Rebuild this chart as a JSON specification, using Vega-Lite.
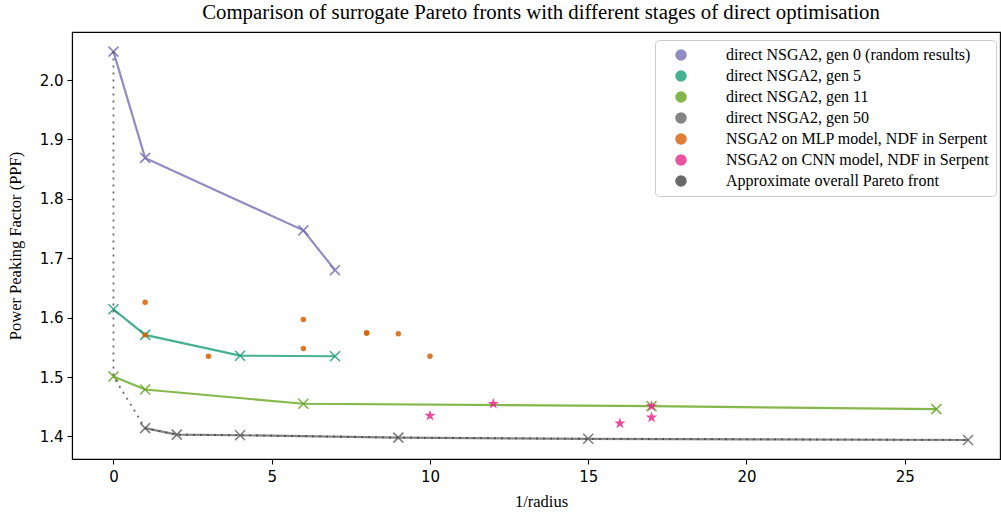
{
  "$schema": "https://vega.github.io/schema/vega-lite/v6.json",
  "autosize": {"type": "none"},
  "padding": {"left": 72, "top": 32, "right": 1, "bottom": 54},
  "width": 928,
  "height": 427,
  "title": {
    "text": "Comparison of surrogate Pareto fronts with different stages of direct optimisation",
    "font": "Liberation Serif",
    "fontSize": 20.8,
    "fontWeight": "normal",
    "color": "black",
    "anchor": "middle",
    "dx": 5,
    "offset": 8
  },
  "config": {
    "view": {"stroke": "black", "strokeWidth": 1.1},
    "axis": {
      "grid": false,
      "domainColor": "black",
      "domainWidth": 1.1,
      "tickColor": "black",
      "tickWidth": 1.1,
      "tickSize": 5,
      "labelFont": "DejaVu Sans",
      "labelFontSize": 15,
      "labelColor": "black",
      "titleFont": "Liberation Serif",
      "titleFontSize": 16.5,
      "titleFontWeight": "normal",
      "titleColor": "black"
    }
  },
  "data": {
    "values": [
      {"series": "direct NSGA2, gen 0 (random results)", "kind": "gen", "o": 1, "x": 0, "y": 2.048},
      {"series": "direct NSGA2, gen 0 (random results)", "kind": "gen", "o": 2, "x": 1, "y": 1.869},
      {"series": "direct NSGA2, gen 0 (random results)", "kind": "gen", "o": 3, "x": 6, "y": 1.747},
      {"series": "direct NSGA2, gen 0 (random results)", "kind": "gen", "o": 4, "x": 7, "y": 1.680},
      {"series": "direct NSGA2, gen 5", "kind": "gen", "o": 1, "x": 0, "y": 1.614},
      {"series": "direct NSGA2, gen 5", "kind": "gen", "o": 2, "x": 1, "y": 1.571},
      {"series": "direct NSGA2, gen 5", "kind": "gen", "o": 3, "x": 4, "y": 1.536},
      {"series": "direct NSGA2, gen 5", "kind": "gen", "o": 4, "x": 7, "y": 1.535},
      {"series": "direct NSGA2, gen 11", "kind": "gen", "o": 1, "x": 0, "y": 1.501},
      {"series": "direct NSGA2, gen 11", "kind": "gen", "o": 2, "x": 1, "y": 1.479},
      {"series": "direct NSGA2, gen 11", "kind": "gen", "o": 3, "x": 6, "y": 1.455},
      {"series": "direct NSGA2, gen 11", "kind": "gen", "o": 4, "x": 17, "y": 1.451},
      {"series": "direct NSGA2, gen 11", "kind": "gen", "o": 5, "x": 26, "y": 1.446},
      {"series": "direct NSGA2, gen 50", "kind": "gen", "o": 1, "x": 1, "y": 1.414},
      {"series": "direct NSGA2, gen 50", "kind": "gen", "o": 2, "x": 2, "y": 1.403},
      {"series": "direct NSGA2, gen 50", "kind": "gen", "o": 3, "x": 4, "y": 1.402},
      {"series": "direct NSGA2, gen 50", "kind": "gen", "o": 4, "x": 9, "y": 1.398},
      {"series": "direct NSGA2, gen 50", "kind": "gen", "o": 5, "x": 15, "y": 1.396},
      {"series": "direct NSGA2, gen 50", "kind": "gen", "o": 6, "x": 27, "y": 1.394},
      {"series": "NSGA2 on MLP model, NDF in Serpent", "kind": "mlp", "o": 1, "x": 1, "y": 1.626},
      {"series": "NSGA2 on MLP model, NDF in Serpent", "kind": "mlp", "o": 2, "x": 1, "y": 1.571},
      {"series": "NSGA2 on MLP model, NDF in Serpent", "kind": "mlp", "o": 3, "x": 3, "y": 1.535},
      {"series": "NSGA2 on MLP model, NDF in Serpent", "kind": "mlp", "o": 4, "x": 6, "y": 1.597},
      {"series": "NSGA2 on MLP model, NDF in Serpent", "kind": "mlp", "o": 5, "x": 6, "y": 1.548},
      {"series": "NSGA2 on MLP model, NDF in Serpent", "kind": "mlp", "o": 6, "x": 8, "y": 1.574},
      {"series": "NSGA2 on MLP model, NDF in Serpent", "kind": "mlp", "o": 7, "x": 8, "y": 1.574},
      {"series": "NSGA2 on MLP model, NDF in Serpent", "kind": "mlp", "o": 8, "x": 9, "y": 1.573},
      {"series": "NSGA2 on MLP model, NDF in Serpent", "kind": "mlp", "o": 9, "x": 10, "y": 1.535},
      {"series": "NSGA2 on CNN model, NDF in Serpent", "kind": "cnn", "o": 1, "x": 10, "y": 1.435},
      {"series": "NSGA2 on CNN model, NDF in Serpent", "kind": "cnn", "o": 2, "x": 12, "y": 1.455},
      {"series": "NSGA2 on CNN model, NDF in Serpent", "kind": "cnn", "o": 3, "x": 16, "y": 1.422},
      {"series": "NSGA2 on CNN model, NDF in Serpent", "kind": "cnn", "o": 4, "x": 17, "y": 1.451},
      {"series": "NSGA2 on CNN model, NDF in Serpent", "kind": "cnn", "o": 5, "x": 17, "y": 1.432},
      {"series": "Approximate overall Pareto front", "kind": "pareto", "o": 1, "x": 0, "y": 2.048},
      {"series": "Approximate overall Pareto front", "kind": "pareto", "o": 2, "x": 0, "y": 1.614},
      {"series": "Approximate overall Pareto front", "kind": "pareto", "o": 3, "x": 0, "y": 1.501},
      {"series": "Approximate overall Pareto front", "kind": "pareto", "o": 4, "x": 1, "y": 1.414},
      {"series": "Approximate overall Pareto front", "kind": "pareto", "o": 5, "x": 2, "y": 1.403},
      {"series": "Approximate overall Pareto front", "kind": "pareto", "o": 6, "x": 4, "y": 1.402},
      {"series": "Approximate overall Pareto front", "kind": "pareto", "o": 7, "x": 9, "y": 1.398},
      {"series": "Approximate overall Pareto front", "kind": "pareto", "o": 8, "x": 15, "y": 1.396},
      {"series": "Approximate overall Pareto front", "kind": "pareto", "o": 9, "x": 27, "y": 1.394}
    ]
  },
  "encoding": {
    "x": {
      "field": "x", "type": "quantitative",
      "scale": {"domain": [-1.31, 28.01], "nice": false, "zero": false},
      "axis": {"title": "1/radius", "values": [0, 5, 10, 15, 20, 25], "labelPadding": 5, "titleX": 469, "titleY": 42, "titleBaseline": "middle"}
    },
    "y": {
      "field": "y", "type": "quantitative",
      "scale": {"domain": [1.362, 2.081], "nice": false, "zero": false},
      "axis": {"title": "Power Peaking Factor (PPF)", "values": [1.4, 1.5, 1.6, 1.7, 1.8, 1.9, 2.0], "format": ".1f", "labelPadding": 4, "titleX": -57, "titleY": 213.5, "titleAngle": -90, "titleBaseline": "middle", "titleAlign": "center"}
    },
    "color": {
      "field": "series", "type": "nominal",
      "scale": {
        "domain": ["direct NSGA2, gen 0 (random results)", "direct NSGA2, gen 5", "direct NSGA2, gen 11", "direct NSGA2, gen 50", "NSGA2 on MLP model, NDF in Serpent", "NSGA2 on CNN model, NDF in Serpent", "Approximate overall Pareto front"],
        "range": ["#7570b3", "#1b9e77", "#66a61e", "#666666", "#d95f02", "#e7298a", "#444444"]
      },
      "legend": {
        "title": null,
        "orient": "none",
        "legendX": 583,
        "legendY": 8,
        "padding": 7,
        "fillColor": "white",
        "strokeColor": "#cccccc",
        "cornerRadius": 4,
        "labelFont": "Liberation Serif",
        "labelFontSize": 16,
        "labelColor": "black",
        "labelLimit": 400,
        "labelOffset": 37,
        "symbolOffset": 11,
        "symbolSize": 100,
        "rowPadding": 5
      }
    }
  },
  "layer": [
    {
      "transform": [{"filter": "datum.kind === 'gen'"}],
      "mark": {"type": "line", "strokeWidth": 2.2, "opacity": 0.8},
      "encoding": {"order": {"field": "o", "type": "quantitative"}}
    },
    {
      "transform": [{"filter": "datum.kind === 'gen'"}],
      "mark": {"type": "point", "shape": "M-1,-1L1,1M-1,1L1,-1", "size": 100, "strokeWidth": 1.5, "opacity": 0.85, "filled": false},
      "encoding": {}
    },
    {
      "transform": [{"filter": "datum.kind === 'mlp'"}],
      "mark": {"type": "point", "shape": "circle", "size": 30, "filled": true, "opacity": 0.85},
      "encoding": {}
    },
    {
      "transform": [{"filter": "datum.kind === 'cnn'"}],
      "mark": {"type": "point", "shape": "M0,-1L0.223,-0.307L0.951,-0.309L0.361,0.117L0.588,0.809L0,0.38L-0.588,0.809L-0.361,0.117L-0.951,-0.309L-0.223,-0.307Z", "size": 144, "filled": true, "opacity": 0.85},
      "encoding": {}
    },
    {
      "transform": [{"filter": "datum.kind === 'pareto'"}],
      "mark": {"type": "line", "strokeWidth": 1.8, "strokeDash": [2, 5], "opacity": 0.8},
      "encoding": {"order": {"field": "o", "type": "quantitative"}}
    }
  ]
}
